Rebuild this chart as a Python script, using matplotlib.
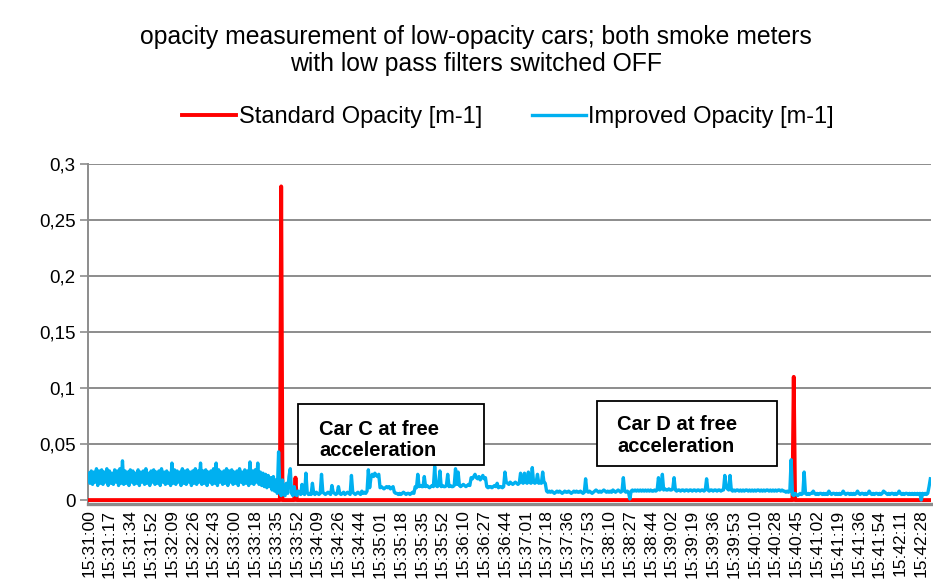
import matplotlib
matplotlib.use("Agg")
import matplotlib.pyplot as plt
from matplotlib.patches import Rectangle
from matplotlib.ticker import FuncFormatter

plt.rcParams["font.family"] = ["Liberation Sans", "DejaVu Sans"]

TITLE = ("opacity measurement of low-opacity cars; both smoke meters\n"
         "with low pass filters switched OFF")

TICK_LABELS = [
    "15:31:00", "15:31:17", "15:31:34", "15:31:52", "15:32:09", "15:32:26",
    "15:32:43", "15:33:00", "15:33:18", "15:33:35", "15:33:52", "15:34:09",
    "15:34:26", "15:34:44", "15:35:01", "15:35:18", "15:35:35", "15:35:52",
    "15:36:10", "15:36:27", "15:36:44", "15:37:01", "15:37:18", "15:37:36",
    "15:37:53", "15:38:10", "15:38:27", "15:38:44", "15:39:02", "15:39:19",
    "15:39:36", "15:39:53", "15:40:10", "15:40:28", "15:40:45", "15:41:02",
    "15:41:19", "15:41:36", "15:41:54", "15:42:11", "15:42:28",
]
TICK_STEP = 16  # samples between labelled ticks

# improved opacity, in 1/1000 m-1, one value per sample
# noisy part before car C (samples 0-145)
IMPROVED_START = [
    24, 15, 26, 14, 25, 16, 28, 13, 26, 15, 27, 14, 25, 16, 28, 13, 26, 15,
    24, 14, 27, 16, 26, 13, 28, 15, 35, 14,
    26, 15, 25, 13, 27, 16, 26, 14, 24, 15, 27, 13, 25, 16, 26, 14, 28, 15,
    24, 13, 26, 16, 27, 14, 25, 15, 26, 13, 28, 16, 25, 14, 26, 15, 24, 13,
    33, 15,
    27, 14, 26, 16, 25, 13, 28, 15, 26, 14, 27, 16, 25, 13, 26, 15, 28, 14,
    26, 16, 33, 14,
    26, 15, 27, 13, 25, 16, 26, 14, 28, 15, 33, 13,
    27, 16, 25, 14, 26, 15, 28, 13, 26, 16, 27, 14, 25, 15, 26, 13, 28, 16,
    25, 14, 27, 15, 26, 13, 34, 15,
    26, 14, 27, 16, 33, 14,
    25, 13, 24, 12, 23, 11, 22, 12, 20, 9, 21, 8, 18, 6,
]
# car C, quiet part, car D, end (samples 146-647)
IMPROVED_REST = [
    43, 8, 4, 18, 5, 4, 15, 6, 21, 28, 6, 4, 12, 5,
    4, 8, 6, 5, 14, 6, 5, 24, 7, 5, 6, 5, 15, 6, 5, 7, 6, 5, 6, 23,
    7, 6, 5, 6, 7, 6, 5, 13, 7, 6, 5, 6, 12, 6, 5, 6, 7, 5, 6, 7, 6, 5,
    22, 7, 6, 5, 6, 7, 6, 5, 8, 6, 7, 6, 8, 27,
    11, 20, 23, 21, 24, 22, 21, 23,
    11, 12, 11, 10, 11, 12, 11, 12, 10, 11, 12,
    7, 6, 6, 5, 6, 5, 6, 7, 6, 5, 6, 6, 5, 6, 7, 6,
    12, 11, 23, 12, 13, 12, 12, 21, 12, 13, 12, 11, 12, 13, 12, 30,
    13, 12, 13, 26, 12, 13, 12, 12, 13, 23, 12, 13, 12, 12, 13, 28, 14, 25,
    13, 12, 13, 14, 13, 12, 13, 14, 13,
    20, 19, 21, 23, 20, 19, 21, 18, 20, 22, 19, 20,
    12, 11, 12, 12, 11, 12, 13, 12, 15, 11, 12, 12, 11, 12,
    25, 16, 15, 14, 16, 15, 14, 15, 16, 15, 14, 15, 24, 16, 15, 24, 16, 15,
    25, 16, 15, 29, 16, 15, 16, 23, 15, 16, 15, 25, 16, 15,
    8, 7, 8, 7, 8, 7, 6, 7, 8, 7, 8, 7, 6, 7, 8, 7, 7, 8, 7, 6, 7, 8, 7, 8,
    7, 7, 8, 7, 6, 7, 19,
    8, 7, 8, 7, 6, 7, 8, 9, 8, 7, 8, 7, 8, 9, 8, 7, 8, 7, 8, 7, 9, 8, 7, 8,
    9, 8, 7, 8, 20, 8, 7, 8, 7, 1,
    8, 9, 8, 9, 8, 9, 8, 9, 8, 9, 8, 9, 8, 9, 8, 9, 8, 8, 9, 8, 9, 20,
    9, 10, 23, 9, 10, 9, 9, 10, 9, 9, 10, 20,
    9, 8, 9, 9, 8, 9, 9, 8, 9, 9, 8, 9, 9, 8, 9, 9, 8, 9, 9, 8, 9, 9, 8, 9,
    19, 9, 8, 9, 9, 8, 9, 9, 8, 9, 9, 8, 9, 9, 22, 12, 10, 9, 22,
    9, 8, 9, 8, 9, 9, 8, 9, 8, 9, 8, 9, 9, 8, 9, 8, 9, 8, 9, 8, 9, 9, 8,
    9, 8, 9, 8, 9, 9, 8, 9, 8, 9, 8, 9, 8, 9, 9, 8, 9, 8, 8, 7, 8, 7, 8,
    36, 5, 4, 6, 5, 4, 5, 6, 5, 6, 25,
    6, 5, 6, 5, 6, 6, 8, 6, 5, 6, 5, 6, 6, 5, 6, 5, 6, 5, 8, 6, 5, 6, 6, 5,
    6, 5, 6, 5, 6, 8, 6, 5, 6, 6, 5, 6, 5, 6, 5, 6, 8, 6, 5, 6, 6, 5, 6, 5,
    6, 8, 6, 5, 6, 5, 6, 6, 5, 6, 5, 6, 8, 7, 6, 5, 6, 5, 6, 6, 5, 6, 5, 6,
    8, 6, 5, 6, 5, 6, 6, 5, 6, 5, 6, 5, 6, 5, 6, 5, 6,
    0, 6, 5, 6, 5, 6, 12, 19,
]

# standard opacity, in 1/1000 m-1: flat at zero except these samples
STANDARD_PEAKS = {148: 280, 159: 20, 542: 110}

RED = "#ff0000"
BLUE = "#00b0f0"
GRID = "#8c8c8c"


def main():
    values = IMPROVED_START + IMPROVED_REST
    n = len(values)
    x = list(range(n))
    improved = [v / 1000 for v in values]
    standard = [STANDARD_PEAKS.get(i, 0) / 1000 for i in x]

    fig = plt.figure(figsize=(9.33, 5.85), dpi=100)
    ax = fig.add_axes([88 / 933, 81 / 585, 843 / 933, 340 / 585])

    ax.plot(x, standard, color=RED, lw=2.8, label="Standard Opacity [m-1]",
            zorder=3)
    ax.plot(x, improved, color=BLUE, lw=2.4, label="Improved Opacity [m-1]",
            zorder=4)

    ax.set_xlim(-0.5, 647.5)
    ax.set_ylim(-0.0035, 0.3)
    ax.set_yticks([0, 0.05, 0.1, 0.15, 0.2, 0.25, 0.3])
    ax.yaxis.set_major_formatter(
        FuncFormatter(lambda v, _: f"{v:g}".replace(".", ",")))
    ax.set_xticks(range(0, TICK_STEP * len(TICK_LABELS), TICK_STEP))
    ax.set_xticklabels(TICK_LABELS, rotation=90, fontsize=12.5)
    ax.tick_params(axis="x", length=0, pad=4)
    ax.tick_params(axis="y", labelsize=13.5, length=6, width=1.2, color=GRID,
                   pad=3)

    ax.grid(axis="y", color=GRID, lw=1.4)
    ax.set_axisbelow(True)
    for s in ("top", "right"):
        ax.spines[s].set_visible(False)
    ax.spines["left"].set_color(GRID)
    ax.spines["left"].set_linewidth(1.4)
    ax.spines["bottom"].set_color(GRID)
    ax.spines["bottom"].set_linewidth(2.4)

    # annotation boxes
    boxes = [((0.249, 0.115), 0.221, 0.179, (0.274, 0.188), "Car C at free\nacceleration"),
             ((0.604, 0.112), 0.213, 0.191, (0.6275, 0.2015), "Car D at free\nacceleration")]
    for (bx, by), bw, bh, (tx, ty), txt in boxes:
        ax.add_patch(Rectangle((bx, by), bw, bh, transform=ax.transAxes,
                               facecolor="white", edgecolor="black", lw=1.3,
                               zorder=5))
        ax.text(tx, ty, txt, transform=ax.transAxes, fontsize=14.5,
                fontweight="bold", va="center", ha="left", linespacing=1.15,
                zorder=6)

    fig.text(476 / 933, 1 - 50.5 / 585, TITLE, ha="center", va="center",
             fontsize=17.8, linespacing=1.16)
    fig.legend(loc="center", bbox_to_anchor=(508 / 933, 1 - 117 / 585),
               ncol=2, frameon=False, fontsize=17, handlelength=2.3,
               handletextpad=0.1, columnspacing=2.1, borderaxespad=0)

    fig.savefig("out.png", dpi=100)
    plt.close(fig)


if __name__ == "__main__":
    main()
